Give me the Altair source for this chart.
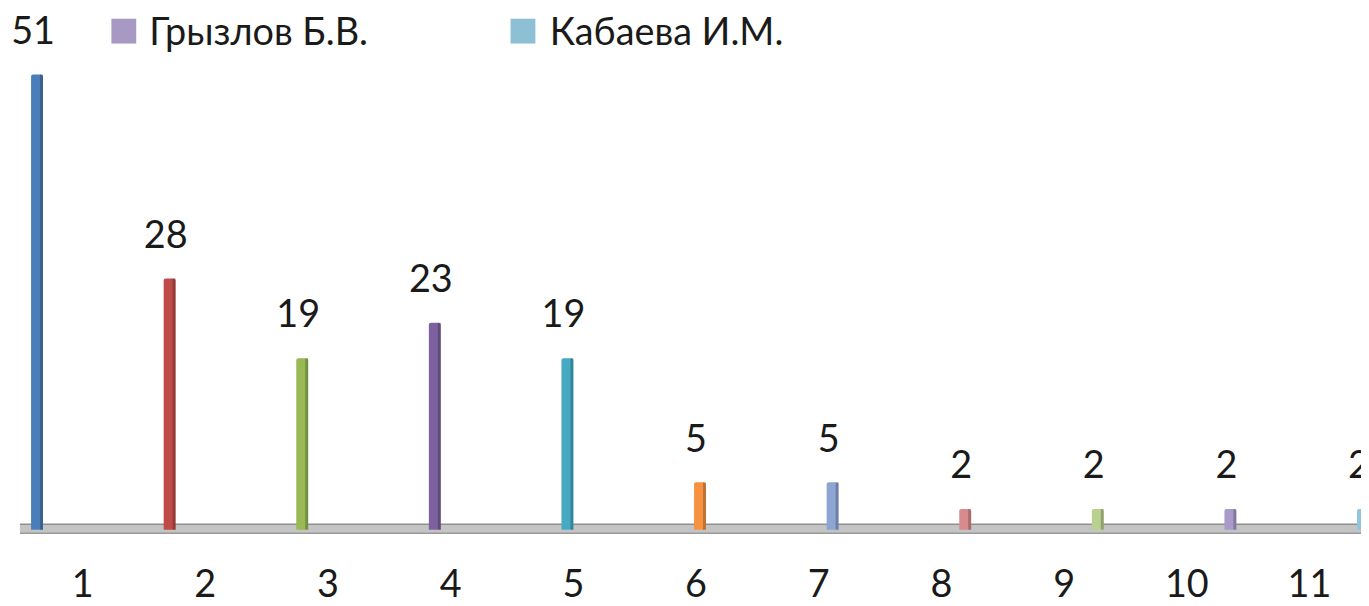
import altair as alt
import pandas as pd

# ---- data ----
categories = [1, 2, 3, 4, 5, 6, 7, 8, 9, 10, 11]
values = [51, 28, 19, 23, 19, 5, 5, 2, 2, 2, 2]
tick_labels = ["1", "2", "3", "4", "5", "6", "7", "8", "9", "10", "11"]
bar_colors = ["#4A7EBB", "#BE4B48", "#98B954", "#7D60A0", "#46AAC5", "#F69240",
              "#8EA5D4", "#D98A8C", "#B9D18F", "#A99BC9", "#93C4DD"]
legend_names = ["Грызлов Б.В.", "Кабаева И.М."]
legend_colors = ["#A899C4", "#8DC0D5"]

FONT = "Lato, 'Open Sans', sans-serif"
W, H = 1361, 598

bars_df = pd.DataFrame({"cat": categories, "value": values,
                        "label": [str(v) for v in values]})
ticks_df = pd.DataFrame({"cat": categories, "tick": tick_labels})
legend_df = pd.DataFrame({"idx": [0, 1], "name": legend_names, "col": legend_colors})
floor_df = pd.DataFrame({"v": [0]})

yscale = alt.Scale(domain=[-8.744, 58.30], nice=False, zero=False, padding=0)
xbar_scale = alt.Scale(domain=[0.781, 10.985], nice=False, zero=False, padding=0)
xtick_scale = alt.Scale(domain=[0.392, 11.42], nice=False, zero=False, padding=0)
color = alt.Color("cat:N", scale=alt.Scale(domain=categories, range=bar_colors), legend=None)

# floor (3D-like grey platform)
floor = alt.Chart(floor_df).mark_rule(color="#c4c4c4", strokeWidth=9, yOffset=2).encode(
    y=alt.Y("v:Q", scale=yscale, axis=None),
    x=alt.value(12), x2=alt.value(W),
)
floor_top = alt.Chart(floor_df).mark_rule(color="#8f8f8f", strokeWidth=1.5, yOffset=-2.5).encode(
    y=alt.Y("v:Q", scale=yscale, axis=None),
    x=alt.value(12), x2=alt.value(W),
)
floor_bot = alt.Chart(floor_df).mark_rule(color="#9a9a9a", strokeWidth=1.5, yOffset=6.5).encode(
    y=alt.Y("v:Q", scale=yscale, axis=None),
    x=alt.value(12), x2=alt.value(W),
)

base = alt.Chart(bars_df)
bars = base.mark_bar(size=12, cornerRadiusTopLeft=2, cornerRadiusTopRight=2, y2Offset=3).encode(
    x=alt.X("cat:Q", scale=xbar_scale, axis=None),
    y=alt.Y("value:Q", scale=yscale, axis=None),
    y2=alt.datum(0),
    color=color,
)
bar_side = base.mark_bar(size=3, xOffset=4.5, color="black", opacity=0.22, y2Offset=3).encode(
    x=alt.X("cat:Q", scale=xbar_scale, axis=None),
    y=alt.Y("value:Q", scale=yscale, axis=None),
    y2=alt.datum(0),
)
value_labels = base.mark_text(font=FONT, fontSize=38, color="#1a1a1a",
                              baseline="alphabetic", dy=-31, dx=-4).encode(
    x=alt.X("cat:Q", scale=xbar_scale, axis=None),
    y=alt.Y("value:Q", scale=yscale, axis=None),
    text="label:N",
)

tick_text = alt.Chart(ticks_df).mark_text(font=FONT, fontSize=38, color="#1a1a1a",
                                          baseline="alphabetic").encode(
    x=alt.X("cat:Q", scale=xtick_scale, axis=None),
    y=alt.value(591),
    text="tick:N",
)

legend_layers = []
sw_x = [116.5, 518]
tx_x = [142, 545]
for i in range(len(legend_names)):
    ld = alt.Chart(legend_df).transform_filter(alt.datum.idx == i)
    legend_layers.append(
        ld.mark_square(size=625, opacity=1).encode(
            x=alt.value(sw_x[i]), y=alt.value(21.5),
            color=alt.Color("col:N", scale=None, legend=None),
        )
    )
    legend_layers.append(
        ld.mark_text(font=FONT, fontSize=38, color="#1a1a1a", align="left",
                     baseline="alphabetic").encode(
            x=alt.value(tx_x[i]), y=alt.value(35), text="name:N",
        )
    )

chart = alt.layer(
    floor, floor_top, floor_bot, bars, bar_side, value_labels, tick_text, *legend_layers
).resolve_scale(x="independent", color="independent").properties(
    width=W, height=H,
    autosize=alt.AutoSizeParams(type="none"),
    padding=0,
    background="white",
).configure_view(stroke=None)

chart.save("out.html", embed_options={"renderer": "svg", "actions": False})
